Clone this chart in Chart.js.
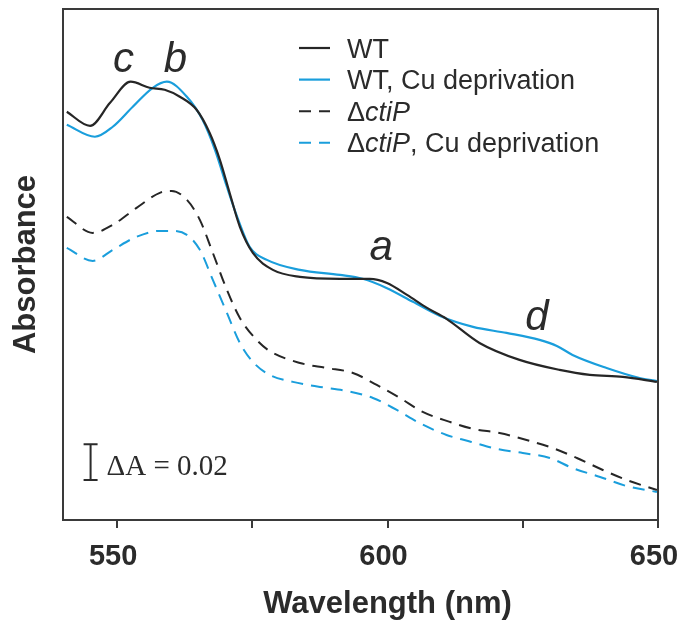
<!DOCTYPE html>
<html>
<head>
<meta charset="utf-8">
<title>Absorbance spectra</title>
<script src="https://cdn.jsdelivr.net/npm/chart.js@4.4.1/dist/chart.umd.min.js"></script>
<style>
  html, body { margin: 0; padding: 0; background: #fff; }
</style>
</head>
<body>
<canvas id="spectra" width="680" height="625"></canvas>
<script>
// spectra (wavelength in nm, absorbance in arbitrary offset)
const wtNm = [540.7, 545.0, 548.7, 552.5, 556.0, 558.8, 561.6, 564.7, 567.1, 569.0, 570.8, 572.7, 575.1, 578.8, 583.8, 591.2, 596.7, 599.9, 603.6, 607.3, 610.9, 617.0, 624.4, 631.8, 637.4, 643.5, 649.8];
const wtAbs = [0.2285, 0.2206, 0.2335, 0.2453, 0.2419, 0.2408, 0.2369, 0.2296, 0.2167, 0.2016, 0.1831, 0.1641, 0.1495, 0.1400, 0.1361, 0.1350, 0.1350, 0.1327, 0.1260, 0.1187, 0.1126, 0.0991, 0.0896, 0.0840, 0.0812, 0.0801, 0.0773];

const wtCuNm = [540.7, 545.9, 549.2, 552.9, 556.6, 559.2, 562.9, 565.8, 568.1, 570.3, 572.2, 574.5, 577.7, 583.8, 591.2, 595.4, 599.8, 604.7, 609.7, 615.8, 622.0, 628.1, 631.3, 634.2, 640.5, 646.6, 649.8];
const wtCuAbs = [0.2212, 0.2145, 0.2201, 0.2313, 0.2419, 0.2453, 0.2369, 0.2240, 0.2072, 0.1865, 0.1697, 0.1529, 0.1456, 0.1400, 0.1372, 0.1350, 0.1299, 0.1221, 0.1142, 0.1081, 0.1047, 0.1008, 0.0974, 0.0924, 0.0851, 0.0795, 0.0778];

const ctiNm = [540.7, 545.5, 549.2, 553.6, 557.9, 560.1, 562.9, 565.3, 567.7, 570.3, 572.7, 575.8, 578.2, 583.8, 588.7, 593.6, 598.0, 602.3, 606.5, 611.5, 615.8, 620.7, 625.7, 630.5, 635.0, 639.8, 644.2, 649.8];
const ctiAbs = [0.1697, 0.1607, 0.1652, 0.1747, 0.1831, 0.1842, 0.1792, 0.1680, 0.1495, 0.1288, 0.1131, 0.1008, 0.0946, 0.0879, 0.0851, 0.0823, 0.0756, 0.0683, 0.0605, 0.0549, 0.0510, 0.0487, 0.0448, 0.0403, 0.0347, 0.0280, 0.0224, 0.0168];

const ctiCuNm = [540.7, 545.5, 549.2, 553.6, 557.9, 559.8, 562.9, 565.3, 567.7, 570.3, 572.7, 575.1, 578.2, 582.5, 587.5, 592.5, 597.3, 601.7, 605.9, 610.9, 615.5, 620.2, 625.0, 630.0, 634.2, 639.3, 644.2, 649.8];
const ctiCuAbs = [0.1523, 0.1450, 0.1512, 0.1585, 0.1618, 0.1618, 0.1596, 0.1512, 0.1344, 0.1159, 0.0991, 0.0885, 0.0812, 0.0773, 0.0745, 0.0722, 0.0683, 0.0616, 0.0543, 0.0476, 0.0437, 0.0398, 0.0375, 0.0347, 0.0291, 0.0241, 0.0190, 0.0157];

const seriesLabels = ['WT', 'WT, Cu deprivation', '\u0394ctiP', '\u0394ctiP, Cu deprivation'];
const tickValues = [550, 575, 600, 625, 650];
const tickLabels = ['550', '', '600', '', '650'];

// band letters and where they sit (nm, absorbance of the baseline)
const bandLetters = ['c', 'b', 'a', 'd'];
const bandNm = [551.2, 560.8, 598.8, 627.6];
const bandAbs = [0.2509, 0.2509, 0.1456, 0.1064];

// scale bar
const barNm = 545.1;
const barBase = 0.0224;
const barDelta = 0.02;
const barText = '\u0394A = 0.02';

const black = '#262626';
const blue = '#1a9edc';
const ink = '#2b2b2b';
const sans = '"Liberation Sans", Arial, Helvetica, sans-serif';

const toPoints = (xs, ys) => xs.map((v, i) => ({x: v, y: ys[i]}));

const spectraDecor = {
  id: 'spectraDecor',
  afterDatasetsDraw(chart) {
    const {ctx, chartArea: a, scales: {x, y}} = chart;
    ctx.save();

    // box round the plot
    ctx.strokeStyle = '#3a3a3a';
    ctx.lineWidth = 2;
    ctx.strokeRect(a.left, a.top, a.right - a.left, a.bottom - a.top);

    // band letters
    ctx.fillStyle = ink;
    ctx.font = 'italic 42px ' + sans;
    ctx.textAlign = 'center';
    ctx.textBaseline = 'alphabetic';
    bandLetters.forEach((t, i) => {
      ctx.fillText(t, x.getPixelForValue(bandNm[i]), y.getPixelForValue(bandAbs[i]));
    });

    // delta A scale bar
    const bx = x.getPixelForValue(barNm);
    const b0 = y.getPixelForValue(barBase);
    const b1 = y.getPixelForValue(barBase + barDelta);
    ctx.strokeStyle = ink;
    ctx.lineWidth = 2;
    ctx.beginPath();
    ctx.moveTo(bx, b0); ctx.lineTo(bx, b1);
    ctx.moveTo(bx - 7, b0); ctx.lineTo(bx + 7, b0);
    ctx.moveTo(bx - 7, b1); ctx.lineTo(bx + 7, b1);
    ctx.stroke();
    ctx.font = '29px "Liberation Serif", "Times New Roman", serif';
    ctx.textAlign = 'left';
    ctx.fillText(barText, bx + 16, b0 - 5);

    // legend, with the gene name in italics
    const lx = a.left + 236, ly = a.top + 39, rowH = 31.6;
    chart.data.datasets.forEach((ds, i) => {
      const yy = ly + i * rowH;
      ctx.strokeStyle = ds.borderColor;
      ctx.lineWidth = ds.borderWidth;
      ctx.setLineDash(ds.borderDash || []);
      ctx.beginPath();
      ctx.moveTo(lx, yy); ctx.lineTo(lx + 31, yy);
      ctx.stroke();
      ctx.setLineDash([]);
      let tx = lx + 48;
      ds.label.split(/(ctiP)/).forEach(part => {
        if (!part) return;
        ctx.font = (part === 'ctiP' ? 'italic ' : '') + '27px ' + sans;
        ctx.fillStyle = ink;
        ctx.fillText(part, tx, yy + 9.5);
        tx += ctx.measureText(part).width;
      });
    });

    // x title
    ctx.font = 'bold 31px ' + sans;
    ctx.textAlign = 'center';
    ctx.fillStyle = ink;
    ctx.fillText('Wavelength (nm)', (a.left + a.right) / 2 + 27, a.bottom + 93);

    ctx.restore();
  }
};

const line = (label, xs, ys, color, dash) => ({
  label: label,
  data: toPoints(xs, ys),
  borderColor: color,
  borderWidth: dash ? 2 : 2.2,
  borderDash: dash ? [12, 8] : [],
  pointRadius: 0,
  cubicInterpolationMode: 'monotone',
  fill: false
});

new Chart(document.getElementById('spectra').getContext('2d'), {
  type: 'line',
  data: {
    datasets: [
      line(seriesLabels[0], wtNm, wtAbs, black, false),
      line(seriesLabels[1], wtCuNm, wtCuAbs, blue, false),
      line(seriesLabels[2], ctiNm, ctiAbs, black, true),
      line(seriesLabels[3], ctiCuNm, ctiCuAbs, blue, true)
    ]
  },
  options: {
    responsive: false,
    animation: false,
    layout: { padding: { left: 0, right: 22, top: 9, bottom: 0 } },
    plugins: {
      legend: { display: false },
      tooltip: { enabled: false }
    },
    scales: {
      x: {
        type: 'linear',
        min: 540,
        max: 650,
        afterBuildTicks: scale => { scale.ticks = tickValues.map(v => ({value: v})); },
        afterFit: scale => {
          scale.height = 105;
          scale.paddingLeft = 0;
          scale.paddingRight = 0;
        },
        border: { display: false },
        grid: { drawOnChartArea: false, drawTicks: true, tickLength: 8, color: '#3a3a3a', lineWidth: 2 },
        ticks: {
          padding: 12,
          labelOffset: -4,
          color: ink,
          font: { family: sans, size: 29, weight: 'bold' },
          maxRotation: 0,
          callback: (v, i) => tickLabels[i]
        }
      },
      y: {
        min: 0,
        max: 0.286,
        afterFit: scale => { scale.width = 63; },
        border: { display: false },
        grid: { display: false },
        ticks: { display: false },
        title: {
          display: true,
          text: 'Absorbance',
          color: ink,
          padding: { top: 8 },
          font: { family: sans, size: 31, weight: 'bold' }
        }
      }
    }
  },
  plugins: [spectraDecor]
});
</script>
</body>
</html>
